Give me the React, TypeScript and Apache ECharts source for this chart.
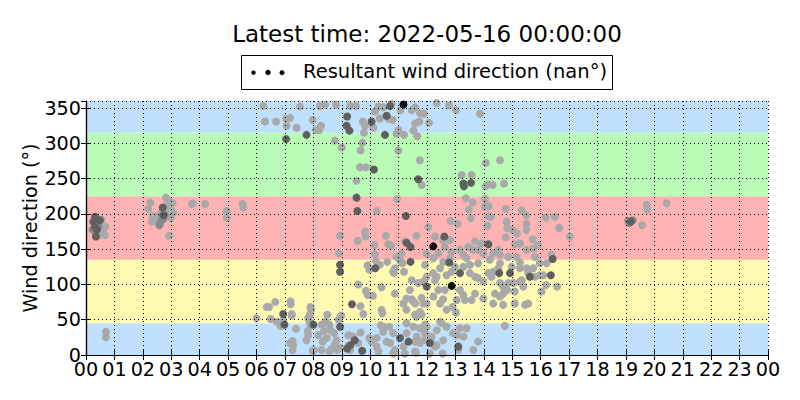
import React, { useEffect, useRef } from "react";
import * as echarts from "echarts";

const TITLE = "Latest time: 2022-05-16 00:00:00";
const LEGEND_TEXT = "Resultant wind direction (nan°)";
const Y_LABEL = "Wind direction (°)";
const HOUR_LABELS = ["00","01","02","03","04","05","06","07","08","09","10","11","12","13","14","15","16","17","18","19","20","21","22","23","00"];
const BAND_RANGES = [[0, 45], [45, 135], [135, 225], [225, 315], [315, 360]];
const BAND_COLORS = ["#bfe0fe", "#fffbb2", "#ffb3b3", "#b9fdb7", "#bfe0fe"];

const lightPts = [
  [0.32,175],[0.49,170],[0.61,172],[0.63,181],[0.67,182],[0.67,170],[0.55,192],[0.47,177],[0.7,33],[0.7,25],
  [2.19,207],[2.27,216],[2.35,197],[2.39,190],[2.31,189],[2.54,197],[2.83,200],[2.89,205],[2.81,223],[2.87,215],[2.95,217],[3.05,215],[3.01,205],[3.07,202],[2.99,194],[2.92,169],[2.66,202],[3.75,215],[3.72,214],[4.19,214],[4.95,204],[4.95,194],[5.51,214],[5.54,209],
  [6.24,353],[7.53,352],[8.23,353],[8.41,355],[8.8,355],[9.29,353],[9.5,353],[6.3,331],[6.69,331],[7.04,335],[7.18,336],[7.06,325],[7.41,322],[7.98,333],[8.27,325],[8.09,319],[8.21,319],[8.76,304],[9.0,294],[9.74,331],[9.82,325],[10.11,322],[9.78,315],[9.73,301],[9.66,290],[9.64,266],[9.85,266],[9.52,247],[10.23,204],
  [8.94,169],[9.82,175],[9.84,168],[9.56,162],[10.15,156],[8.9,144],[10.17,143],[10.2,133],[9.91,127],[9.97,121],[9.58,100],[9.85,91],[9.92,85],[10.09,84],[9.66,69],[9.76,58],[6.0,52],[6.36,68],[6.44,68],[6.66,75],[6.5,51],[6.71,47],[6.85,41],[6.94,49],[7.2,76],[7.2,72],[7.24,58],[7.24,56],[7.39,37],[7.27,20],[7.18,17],[7.29,14],[7.27,7],[7.9,68],[7.92,64],[7.88,57],[7.82,52],[7.86,47],[7.9,42],[7.8,34],[7.76,21],[7.82,28],[8.02,7],[7.98,6],[8.29,43],[8.44,47],[8.49,57],[8.37,34],[8.59,35],[8.56,43],[8.17,28],[8.33,19],[8.47,24],[8.73,31],[8.82,21],[8.76,15],[8.65,9],[8.56,5],[8.29,7],[8.89,50],[8.98,56],[8.84,7],[8.94,10],[9.23,28],[9.4,26],[9.58,17],[9.29,7],[9.97,24],[10.05,19],[9.66,32],
  [9.23,13],[10.23,12],[10.29,5],[10.37,42],[10.46,40],[10.67,40],[10.4,64],[10.43,59],[10.58,19],[10.7,17],[10.81,31],[10.87,7],
  [10.29,352],[10.46,351],[10.76,356],[11.07,347],[11.58,351],[11.46,347],[11.75,343],[11.89,342],[12.34,357],[12.78,354],[13.02,347],[13.86,342],[10.17,345],[10.34,335],[10.64,335],[10.79,333],[10.93,314],[10.99,319],[11.19,312],[11.52,318],[11.58,328],[11.73,331],[11.66,310],[12.07,329],[10.99,290],[11.75,276],[11.81,241],[13.22,255],[13.57,255],[10.95,221],[12.05,181],[12.84,190],[13.07,186],[13.37,222],[13.61,216],[13.47,206],[13.54,194],
  [11.63,169],[10.93,139],[11.05,134],[10.55,169],[10.64,157],[10.73,155],[10.87,123],[10.84,116],[11.14,130],[11.19,118],[10.6,132],[10.81,118],[11.46,106],[11.4,92],[11.69,102],[11.87,104],[11.17,73],[11.46,79],[11.58,73],[11.87,73],[11.63,54],[11.28,64],[11.28,45],[11.52,40],[11.28,31],[11.63,26],[11.75,17],[11.58,5],[11.22,2],
  [10.34,128],[10.4,96],[10.87,87],[11.1,144],[11.22,161],[11.28,80],[11.52,76],[11.58,57],[11.75,61],[11.81,81],[11.81,57],[11.93,43],[10.46,33],[10.23,24],[11.58,19],[11.87,21],[10.81,2],
  [14.07,272],[14.57,276],[14.16,242],[14.31,241],[14.71,243],[14.06,239],
  [14.04,221],[14.04,210],[14.18,211],[14.77,207],[15.33,205],[15.5,198],[14.16,197],[14.24,196],[14.13,183],[14.8,189],[14.82,180],[15.01,177],[15.5,186],[15.5,177],[15.17,172],[16.18,195],[16.5,196],[16.65,180],[17.03,168],[14.77,167],[15.1,157],[15.27,158],[15.5,149],[15.72,164],[15.74,151],[15.91,156],[15.8,139],[16.38,142],[16.21,130],[15.97,130],
  [12.28,168],[12.57,163],[12.63,153],[12.81,163],[12.4,144],[12.22,137],[11.99,144],[11.93,128],[12.57,132],[12.81,137],[12.87,146],[12.98,125],[13.16,149],[13.28,142],[13.39,137],[13.45,153],[13.63,149],[13.69,161],[13.8,149],[13.98,144],[13.92,158],[14.33,144],[14.51,149],[14.57,142],[14.21,135],[13.8,130],[13.51,128],[13.28,125],[12.87,118],[12.69,113],[12.46,123],[12.34,111],[12.22,116],[11.99,111],[12.28,106],[13.16,92],[13.04,78],[12.63,92],[12.4,92],[12.46,73],[12.69,64],[12.9,68],[13.02,60],[11.99,73],[13.28,85],[13.51,116],[13.69,111],[13.8,109],[13.98,104],[14.16,116],[14.33,118],[14.27,111],[14.51,123],[14.57,130],[14.86,139],[14.98,125],[15.15,139],[15.27,131],[15.27,123],[15.27,104],[15.39,97],[14.86,102],[15.04,102],[14.57,102],[14.68,97],[14.57,83],[14.39,87],[14.68,87],[14.82,92],[15.09,90],[15.33,106],[15.56,116],[15.5,123],[15.8,111],[15.97,113],[15.74,123],[16.09,113],[16.19,99],[16.03,90],[16.58,97],[13.98,80],[13.69,87],[13.33,78],[14.68,71],[15.09,73],[15.45,71],[15.56,73],[14.33,73],[12.22,83],[12.57,79],[13.57,78],
  [14.74,41],[11.93,31],[12.34,35],[12.57,21],[12.92,31],[13.16,38],[13.39,38],[13.8,19],[12.46,47],[12.52,45],[12.28,12],[13.04,28],[13.28,26],[13.1,7],[12.13,21],[12.34,14],[11.61,3],[12.55,2],[11.75,38],[11.99,40],[11.17,12],[12.16,26],[12.69,40],[13.63,7],[12.1,2],
  [19.57,184],[19.73,213],[19.75,206],[20.43,215]
];

const midPts = [
  [0.4,186],[0.43,182],[0.23,178],
  [2.6,186],[2.58,184],[2.66,191],[2.72,193],[2.77,198],
  [19.08,190],[19.24,191],[19.12,187]
];

const darkPts = [
  [0.32,196],[0.26,189],[0.32,181],[0.35,168],[0.38,178],[0.49,191],
  [2.7,209],[2.72,198],
  [7.76,312],[7.04,306],[9.19,338],[9.17,325],[9.27,318],[10.05,331],[10.13,263],[9.52,223],[9.55,204],
  [8.94,128],[8.94,118],[10.18,123],[9.36,72],[6.94,58],[6.98,43],[8.0,43],[8.94,40],[9.46,21],[9.31,14],[9.19,9],[9.72,6],
  [10.7,353],[10.58,339],[10.52,312],[11.69,249],[13.28,243],[13.3,239],[13.55,244],[11.26,197],
  [11.28,159],[11.42,153],[11.42,132],[11.99,97],[11.05,24],[11.35,19],[13.1,12],[12.61,168],[13.16,116],
  [12.78,131],[14.16,157],[14.54,116],[14.92,116],[15.62,111],[16.36,113],[16.42,136],[12.1,17],[19.17,189]
];

const blackPts = [[11.17,355],[12.22,154],[12.87,98]];

const FONT = "DejaVu Sans";
const BASE_FONT = 19.2;

export default function App() {
  const ref = useRef<HTMLDivElement>(null);
  useEffect(() => {
    if (!ref.current) return;
    const chart = echarts.init(ref.current, undefined, { renderer: "svg" });
    const axisLine = { show: true, lineStyle: { color: "#000", width: 1.2 } };
    const axisTick = { show: true, inside: true, length: 5, lineStyle: { color: "#000", width: 1 } };
    const splitLine = { show: true, lineStyle: { color: "#000", width: 1, type: [1, 3] } };
    const scatter = (data: number[][], color: string) => ({
      type: "scatter",
      data,
      symbolSize: 8,
      itemStyle: { color, opacity: 1 },
      z: 2,
      silent: true,
    });
    chart.setOption({
      animation: false,
      backgroundColor: "#ffffff",
      textStyle: { fontFamily: FONT },
      grid: { left: 86, right: 32, top: 101, bottom: 45 },
      xAxis: [
        {
          type: "value", min: 0, max: 24, interval: 1, position: "bottom", z: 3,
          axisLine, axisTick, splitLine,
          axisLabel: {
            color: "#000", fontSize: BASE_FONT, fontFamily: FONT, margin: 4.5,
            formatter: (v: number) => HOUR_LABELS[Math.round(v)] ?? "",
          },
        },
        {
          type: "value", min: 0, max: 24, interval: 1, position: "top", z: 3,
          axisLine, axisTick, splitLine: { show: false }, axisLabel: { show: false },
        },
      ],
      yAxis: [
        {
          type: "value", min: 0, max: 360, interval: 50, position: "left", z: 3,
          axisLine, axisTick, splitLine,
          axisLabel: { color: "#000", fontSize: BASE_FONT, fontFamily: FONT, margin: 5, showMaxLabel: false,
            formatter: (v: number) => (v >= 360 ? "" : String(v)) },
        },
        {
          type: "value", min: 0, max: 360, interval: 50, position: "right", z: 3,
          axisLine, axisTick, splitLine: { show: false }, axisLabel: { show: false },
        },
      ],
      series: [
        {
          type: "custom",
          z: 1,
          silent: true,
          data: BAND_RANGES,
          encode: { x: -1, y: [0, 1] },
          renderItem: (params: any, api: any) => {
            const lo = api.value(0);
            const hi = api.value(1);
            const p1 = api.coord([0, hi]);
            const p2 = api.coord([24, lo]);
            return {
              type: "rect",
              shape: { x: p1[0], y: p1[1], width: p2[0] - p1[0], height: p2[1] - p1[1] },
              style: { fill: BAND_COLORS[params.dataIndex] },
            };
          },
        },
        scatter(lightPts, "#a9a9a9"),
        scatter(midPts, "#8a8a8a"),
        scatter(darkPts, "#5f5f5f"),
        scatter(blackPts, "#111111"),
      ],
      graphic: [
        {
          type: "text", x: 427, y: 34, z: 10,
          style: { text: TITLE, fontSize: 23, fontFamily: FONT, fill: "#000", align: "center", verticalAlign: "middle" },
        },
        {
          type: "rect", z: 10,
          shape: { x: 241.5, y: 55.5, width: 371, height: 34 },
          style: { fill: "#fff", stroke: "#000", lineWidth: 1 },
        },
        { type: "circle", z: 11, shape: { cx: 253.5, cy: 72.7, r: 2.2 }, style: { fill: "#000" } },
        { type: "circle", z: 11, shape: { cx: 268, cy: 72.5, r: 2.7 }, style: { fill: "#000" } },
        { type: "circle", z: 11, shape: { cx: 282, cy: 72.7, r: 2.5 }, style: { fill: "#000" } },
        {
          type: "text", x: 303, y: 71, z: 11,
          style: { text: LEGEND_TEXT, fontSize: 19.5, fontFamily: FONT, fill: "#000", align: "left", verticalAlign: "middle" },
        },
        {
          type: "text", x: 30, y: 228, rotation: Math.PI / 2, z: 10,
          style: { text: Y_LABEL, fontSize: BASE_FONT, fontFamily: FONT, fill: "#000", align: "center", verticalAlign: "middle" },
        },
      ],
    });
    return () => chart.dispose();
  }, []);
  return (
    <div
      ref={ref}
      style={{ position: "fixed", left: 0, top: 0, width: 800, height: 400, background: "#fff" }}
    />
  );
}
